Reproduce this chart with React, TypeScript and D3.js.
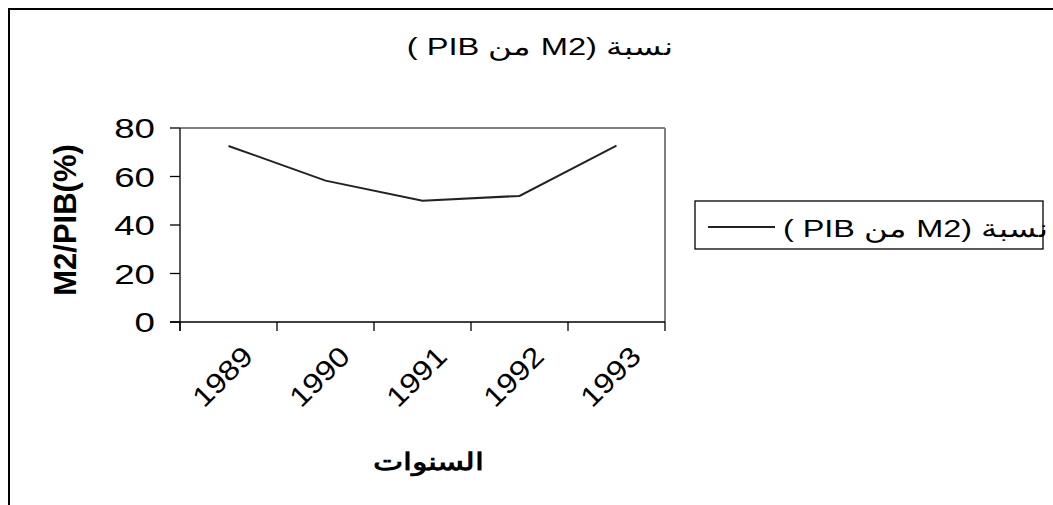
import React from "react";
import * as d3 from "d3";

const years = ["1989", "1990", "1991", "1992", "1993"];
const ratios = [72.6, 58.3, 50.0, 52.0, 72.7];
const yTicks = [0, 20, 40, 60, 80];
const titleText = "نسبة (M2 من PIB )";
const seriesName = "نسبة (M2 من PIB )";
const xTitle = "السنوات";
const yTitle = "M2/PIB(%)";

export default function App() {
  const W = 1053, H = 505;
  const left = 180, right = 665, top = 128, bottom = 322;
  const x = d3.scaleBand<string>().domain(years).range([left, right]).padding(0);
  const y = d3.scaleLinear().domain([0, 80]).range([bottom, top]);
  const cx = (d: string) => (x(d) as number) + x.bandwidth() / 2;
  const line = d3.line<number>().x((_, i) => cx(years[i])).y((v) => y(v));
  const boundaries = [...years.map((d) => x(d) as number), right];
  const font = "Arial, 'Liberation Sans', sans-serif";
  return (
    <svg width={W} height={H} style={{ position: "absolute", left: 0, top: 0, background: "#fff" }}>
      <rect x={9} y={9} width={1200} height={700} fill="#fff" stroke="#000" strokeWidth={2} />
      <g transform="translate(540,55) scale(1.36,1)">
        <text x={0} y={0} textAnchor="middle" direction="rtl" fontFamily={font} fontSize={24}>{titleText}</text>
      </g>
      {/* plot border */}
      <line x1={left} y1={top} x2={right} y2={top} stroke="#808080" strokeWidth={2} />
      <line x1={right} y1={top} x2={right} y2={bottom} stroke="#808080" strokeWidth={2} />
      <line x1={left} y1={top} x2={left} y2={bottom + 9} stroke="#000" strokeWidth={1.3} />
      <line x1={left - 10} y1={bottom} x2={right} y2={bottom} stroke="#000" strokeWidth={1.3} />
      {yTicks.map((t) => (
        <g key={t}>
          <line x1={left - 10} x2={left} y1={y(t)} y2={y(t)} stroke="#000" strokeWidth={1.3} />
          <g transform={`translate(155,${y(t) + 10}) scale(1.31,1)`}>
            <text x={0} y={0} textAnchor="end" fontFamily={font} fontSize={28}>{t}</text>
          </g>
        </g>
      ))}
      {boundaries.map((b, i) => (
        <line key={i} x1={b} x2={b} y1={bottom} y2={bottom + 9} stroke="#000" strokeWidth={1.3} />
      ))}
      {years.map((d) => (
        <text key={d} transform={`translate(${cx(d) + 12},${bottom + 22}) rotate(-45) scale(1.15,1)`} textAnchor="end" dominantBaseline="hanging" fontFamily={font} fontSize={28}>{d}</text>
      ))}
      <path d={line(ratios) || ""} fill="none" stroke="#222" strokeWidth={2} />
      <text transform={`translate(76,220) rotate(-90)`} textAnchor="middle" fontFamily={font} fontSize={31} fontWeight="bold">{yTitle}</text>
      <g transform="translate(429,470) scale(1.34,1)">
        <text x={0} y={0} textAnchor="middle" fontFamily={font} fontSize={24} fontWeight="bold" direction="rtl">{xTitle}</text>
      </g>
      <rect x={695} y={201} width={348} height={48} fill="#fff" stroke="#000" strokeWidth={1.3} />
      <line x1={708} x2={775} y1={227} y2={227} stroke="#222" strokeWidth={2} />
      <g transform="translate(1048,237) scale(1.35,1)">
        <text x={0} y={0} textAnchor="start" direction="rtl" fontFamily={font} fontSize={24}>{seriesName}</text>
      </g>
    </svg>
  );
}
